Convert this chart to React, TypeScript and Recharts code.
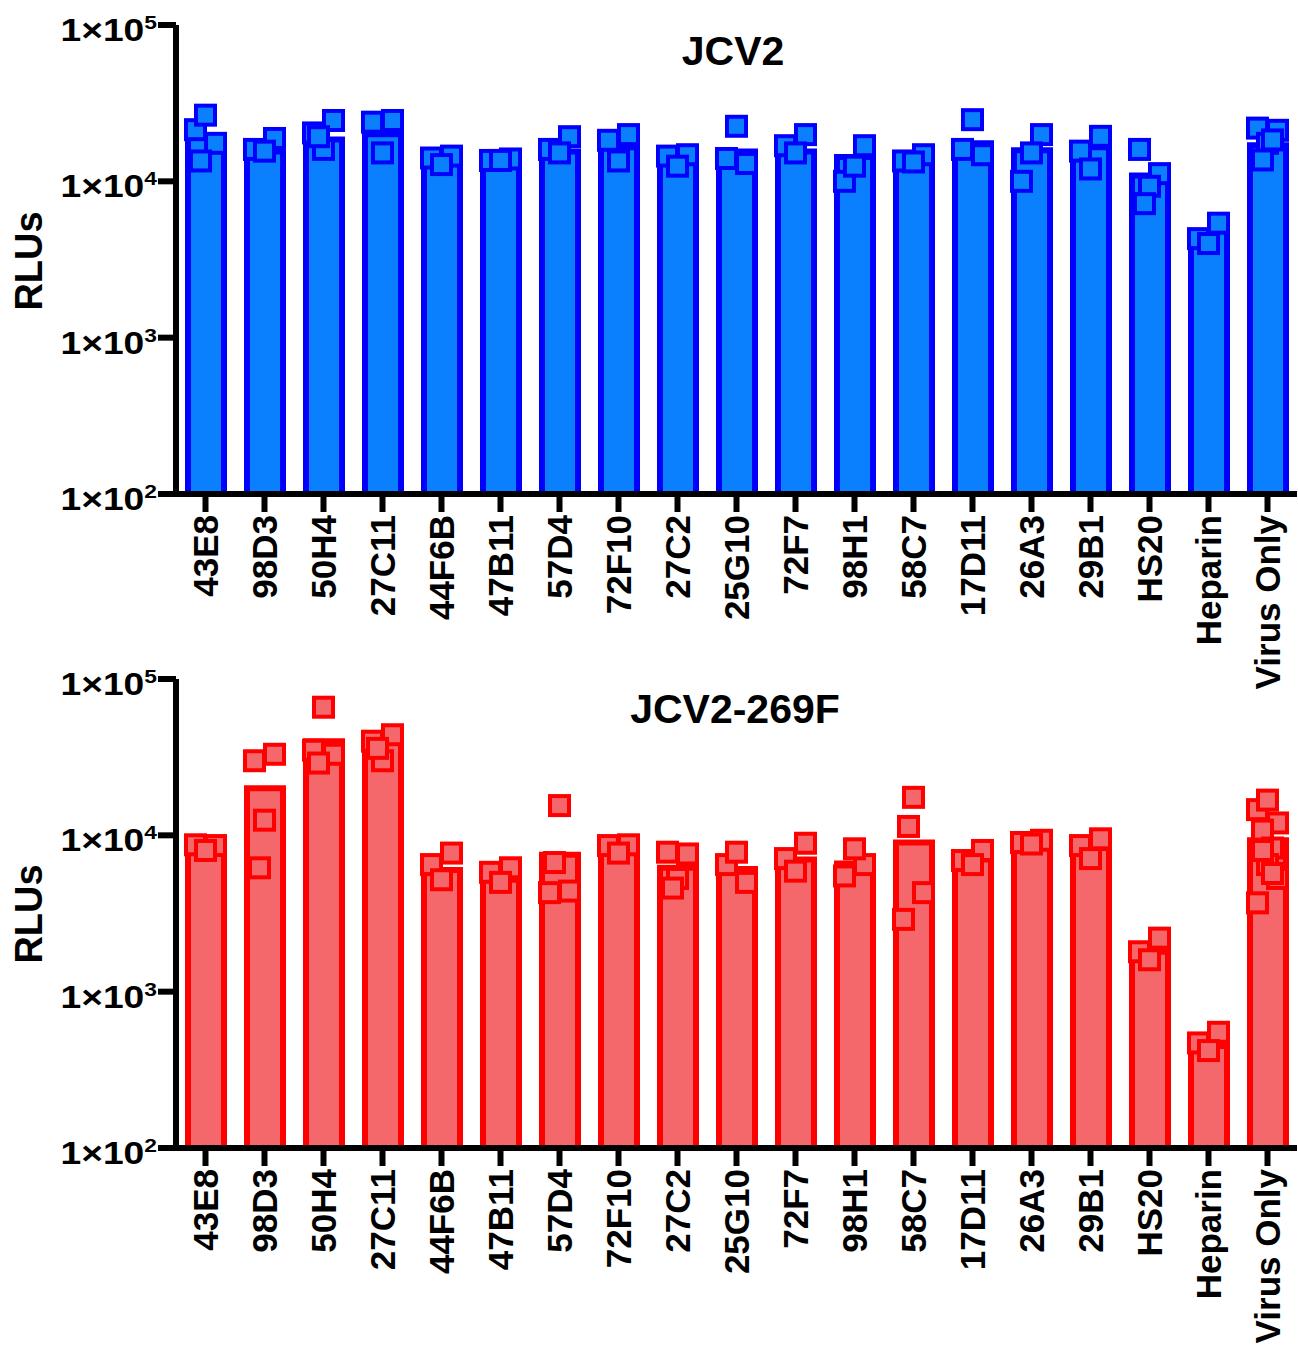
import React from 'react';
import { ComposedChart, Bar, Scatter, XAxis, YAxis } from 'recharts';

const categories = [
  '43E8', '98D3', '50H4', '27C11', '44F6B', '47B11', '57D4', '72F10', '27C2', '25G10',
  '72F7', '98H1', '58C7', '17D11', '26A3', '29B1', 'HS20', 'Heparin', 'Virus Only',
];

// JCV2 (top panel)
const jcv2Means = [
  19000, 15500, 18500, 20000, 14000, 13800, 15500, 16500, 14000, 15500,
  15500, 14300, 13800, 17500, 15800, 16500, 10900, 4800, 17000,
];
const jcv2Points = [
  [21400, 17500, 26500, 13500],
  [16000, 18800, 15600],
  [20400, 24500, 16000, 19300],
  [23900, 24500, 15200],
  [14100, 14500, 12800],
  [13600, 13900, 13600],
  [16000, 19300, 15200],
  [18300, 19900, 13500],
  [14500, 14800, 12500],
  [14000, 13000, 22500],
  [16900, 19900, 15200],
  [10000, 16900, 12500],
  [13500, 14800, 13300],
  [16000, 14800, 24800],
  [10000, 19900, 15200],
  [15600, 19400, 12000],
  [16000, 11200, 9300, 7200],
  [4300, 5400, 4000],
  [21900, 21200, 17500, 13700, 18400],
];

// JCV2-269F (bottom panel)
const mutMeans = [
  8500, 20000, 40000, 40000, 6000, 5200, 7500, 8300, 6200, 6100,
  7000, 6600, 9000, 7000, 9000, 8300, 1800, 450, 9300,
];
const mutPoints = [
  [8700, 8600, 8000],
  [30000, 33000, 12500, 6200],
  [35000, 33000, 66000, 29000],
  [40000, 44000, 30000, 36000],
  [6500, 7700, 5200],
  [5800, 6200, 5000],
  [4300, 4400, 15500, 6700],
  [8600, 8700, 7700],
  [7800, 7600, 5300, 4600],
  [6500, 5000, 7800],
  [7100, 8900, 5900],
  [5500, 6500, 8200],
  [2900, 4300, 17500, 11400],
  [6900, 8000, 6500],
  [9000, 9300, 8800],
  [8600, 9500, 7100],
  [1800, 2200, 1600],
  [470, 550, 420],
  [14600, 12000, 16800, 10800, 8300, 3700, 5300, 6500, 8000, 5700],
];

const yTicks = [100, 1000, 10000, 100000];

const FONT = '"Liberation Sans", Arial, Helvetica, sans-serif';
const JITTER = [-10, 10, 0, -5, 5, -10, 10, 0, -5, 5];

function buildRows(means: number[], points: number[][]) {
  return categories.map((name, i) => {
    const row: Record<string, any> = { name, mean: means[i] };
    points[i].forEach((v, j) => {
      row['p' + j] = v;
    });
    return row;
  });
}

const YTick = (props: any) => {
  const { x, y, payload } = props;
  const exp = Math.round(Math.log10(payload.value));
  return (
    <g transform={`translate(${x},${y}) scale(1.2,1)`}>
      <text x={0} y={16} textAnchor="end" fontFamily={FONT} fontWeight="bold" fontSize={31} fill="#000">
        1×10
        <tspan dy={-12} fontSize={19}>{exp}</tspan>
      </text>
    </g>
  );
};

const XTick = (props: any) => {
  const { x, y, payload } = props;
  return (
    <text
      transform={`translate(${x + 12},${y}) rotate(-90)`}
      textAnchor="end"
      fontFamily={FONT}
      fontWeight="bold"
      fontSize={35}
      fill="#000"
    >
      {payload.value}
    </text>
  );
};

const squareShape = (dx: number, fill: string, stroke: string) => (props: any) => {
  const { cx, cy } = props;
  if (!Number.isFinite(cx) || !Number.isFinite(cy)) return <g />;
  return <rect x={cx + dx - 9.5} y={cy - 9.5} width={19} height={19} fill={fill} stroke={stroke} strokeWidth={4} />;
};

interface PanelProps {
  means: number[];
  points: number[][];
  fill: string;
  stroke: string;
  height: number;
  axisHeight: number;
}

function Panel({ means, points, fill, stroke, height, axisHeight }: PanelProps) {
  const rows = buildRows(means, points);
  const maxPts = Math.max(...points.map((p) => p.length));
  const keys = Array.from({ length: maxPts }, (_, j) => 'p' + j);
  return (
    <ComposedChart width={1298} height={height} data={rows} margin={{ top: 25, right: 1, bottom: 0, left: 0 }} barCategoryGap={0}>
      <XAxis
        dataKey="name"
        height={axisHeight}
        interval={0}
        tick={<XTick />}
        tickSize={18}
        tickMargin={3}
        axisLine={{ stroke: '#000', strokeWidth: 6 }}
        tickLine={{ stroke: '#000', strokeWidth: 6 }}
      />
      <YAxis
        type="number"
        scale="log"
        domain={[100, 100000]}
        ticks={yTicks}
        allowDataOverflow
        width={176}
        tick={<YTick />}
        tickSize={18}
        tickMargin={1}
        axisLine={{ stroke: '#000', strokeWidth: 6 }}
        tickLine={{ stroke: '#000', strokeWidth: 6 }}
      />
      <Bar dataKey="mean" barSize={36} fill={fill} stroke={stroke} strokeWidth={6} isAnimationActive={false} />
      {keys.map((k, j) => (
        <Scatter key={k} dataKey={k} shape={squareShape(JITTER[j], fill, stroke)} isAnimationActive={false} />
      ))}
    </ComposedChart>
  );
}

export default function App() {
  return (
    <div style={{ position: 'absolute', left: 0, top: 0, width: 1298, height: 1347, background: '#fff' }}>
      <div style={{ position: 'absolute', left: 0, top: 0 }}>
        <Panel means={jcv2Means} points={jcv2Points} fill="#0b80ff" stroke="#0000ff" height={700} axisHeight={206} />
      </div>
      <div style={{ position: 'absolute', left: 0, top: 654 }}>
        <Panel means={mutMeans} points={mutPoints} fill="#f4686c" stroke="#ff0000" height={693} axisHeight={199} />
      </div>
      <svg width={1298} height={1347} style={{ position: 'absolute', left: 0, top: 0, pointerEvents: 'none' }}>
        <text x={733} y={65} textAnchor="middle" fontFamily={FONT} fontWeight="bold" fontSize={41} fill="#000">
          JCV2
        </text>
        <text x={735} y={723} textAnchor="middle" fontFamily={FONT} fontWeight="bold" fontSize={41} fill="#000">
          JCV2-269F
        </text>
        <text transform="translate(42,261) rotate(-90)" textAnchor="middle" fontFamily={FONT} fontWeight="bold" fontSize={38} fill="#000">
          RLUs
        </text>
        <text transform="translate(42,914) rotate(-90)" textAnchor="middle" fontFamily={FONT} fontWeight="bold" fontSize={38} fill="#000">
          RLUs
        </text>
      </svg>
    </div>
  );
}
